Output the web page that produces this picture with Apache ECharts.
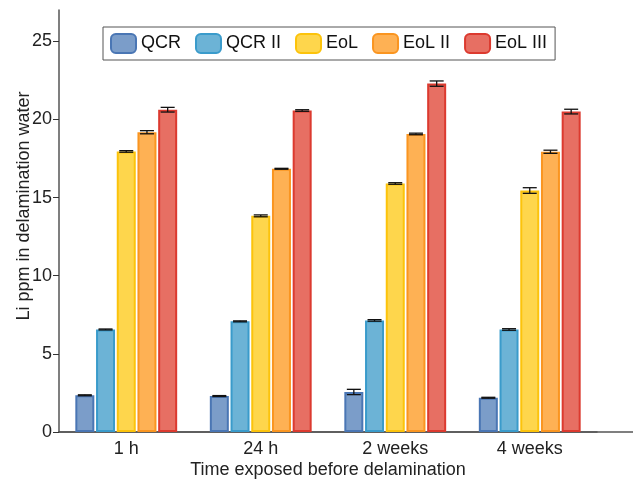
<!DOCTYPE html>
<html>
<head>
<meta charset="utf-8">
<script src="https://cdn.jsdelivr.net/npm/echarts@6/dist/echarts.min.js"></script>
<style>html,body{margin:0;padding:0;background:#fff;}#c{width:633px;height:482px;}</style>
</head>
<body>
<div id="c"></div>
<script>
const categories = ['1 h', '24 h', '2 weeks', '4 weeks'];
const seriesNames = ['QCR', 'QCR II', 'EoL', 'EoL II', 'EoL III'];
const qcr    = [2.35, 2.30, 2.56, 2.19];
const qcr2   = [6.56, 7.08, 7.14, 6.56];
const eol    = [17.95, 13.83, 15.90, 15.45];
const eol2   = [19.18, 16.84, 19.07, 17.93];
const eol3   = [20.62, 20.57, 22.29, 20.50];
const qcrErr  = [0.03, 0.03, 0.17, 0.03];
const qcr2Err = [0.03, 0.03, 0.05, 0.05];
const eolErr  = [0.05, 0.06, 0.05, 0.18];
const eol2Err = [0.10, 0.03, 0.05, 0.10];
const eol3Err = [0.15, 0.05, 0.17, 0.15];
const yTicks = [0, 5, 10, 15, 20, 25];

const values = [qcr, qcr2, eol, eol2, eol3];
const errors = [qcrErr, qcr2Err, eolErr, eol2Err, eol3Err];
const fills = ['#7b9dc9', '#6cb3d6', '#fed64c', '#feb154', '#e76f63'];
const borders = ['#4a76b4', '#3a9bcb', '#fcc30b', '#fa9520', '#dc3a2f'];
const BW = 19, BG = '9%';

const chart = echarts.init(document.getElementById('c'), null, {renderer: 'canvas'});
const font = 'Liberation Sans, Arial, sans-serif';

const series = [];
seriesNames.forEach((n, i) => {
  series.push({
    name: n, type: 'bar', xAxisIndex: 0, yAxisIndex: 0,
    data: values[i], barWidth: BW, barGap: BG,
    itemStyle: {color: fills[i], borderColor: borders[i], borderWidth: 2},
    z: 2
  });
});
seriesNames.forEach((n, i) => {
  series.push({
    type: 'custom', xAxisIndex: 0, yAxisIndex: 0, z: 5,
    data: values[i].map((v, k) => [k, v, errors[i][k]]),
    renderItem: function (params, api) {
      const k = api.value(0), v = api.value(1), e = api.value(2);
      const layout = api.barLayout({barWidth: BW, barGap: BG, count: 5});
      const off = layout[i].offsetCenter;
      const hi = api.coord([k, v + e]);
      const lo = api.coord([k, v - e]);
      const x = hi[0] + off;
      const hw = 7;
      const st = {stroke: '#111', lineWidth: 1.3};
      return {type: 'group', children: [
        {type: 'line', shape: {x1: x, y1: hi[1], x2: x, y2: lo[1]}, style: st},
        {type: 'line', shape: {x1: x - hw, y1: hi[1], x2: x + hw, y2: hi[1]}, style: st},
        {type: 'line', shape: {x1: x - hw, y1: lo[1], x2: x + hw, y2: lo[1]}, style: st}
      ]};
    }
  });
});

chart.setOption({
  backgroundColor: '#fff',
  animation: false,
  textStyle: {fontFamily: font},
  legend: {
    data: seriesNames, left: 103, top: 27,
    itemWidth: 25, itemHeight: 19, itemGap: 14,
    padding: [6, 8, 6, 7],
    borderColor: '#555', borderWidth: 1, backgroundColor: '#fff',
    textStyle: {fontSize: 18, color: '#111', fontFamily: font}
  },
  grid: [
    {left: 59, right: 36, top: 10, bottom: 50, containLabel: false, outerBoundsMode: 'none'},
    {left: 59, right: 0, top: 10, bottom: 50, containLabel: false, outerBoundsMode: 'none'}
  ],
  xAxis: [{
    type: 'category', data: categories, gridIndex: 0,
    axisLine: {lineStyle: {color: '#555', width: 1.5}},
    axisTick: {alignWithLabel: true, inside: true, length: 5, lineStyle: {color: '#333'}},
    axisLabel: {fontSize: 18, color: '#222', margin: 8, fontFamily: font},
    name: 'Time exposed before delamination', nameLocation: 'middle', nameGap: 29,
    nameMoveOverlap: false,
    nameTextStyle: {fontSize: 18, color: '#222', fontFamily: font}
  }, {
    type: 'value', gridIndex: 1, min: 0, max: 1,
    axisLine: {show: true, lineStyle: {color: '#555', width: 1.5}},
    axisTick: {show: false}, axisLabel: {show: false}, splitLine: {show: false}
  }],
  yAxis: [{
    type: 'value', gridIndex: 0, min: 0, max: 27,
    axisLine: {show: true, lineStyle: {color: '#555', width: 1.5}},
    axisTick: {show: true, length: 6, customValues: yTicks, lineStyle: {color: '#333'}},
    axisLabel: {fontSize: 18, color: '#222', margin: 7, customValues: yTicks, fontFamily: font},
    splitLine: {show: false},
    name: 'Li ppm in delamination water', nameLocation: 'middle', nameGap: 26,
    nameMoveOverlap: false,
    nameTextStyle: {fontSize: 18, color: '#222', fontFamily: font, padding: [0, 0, 0, 30]}
  }, {
    type: 'value', gridIndex: 1, show: false, min: 0, max: 1
  }],
  series: series
});
</script>
</body>
</html>
